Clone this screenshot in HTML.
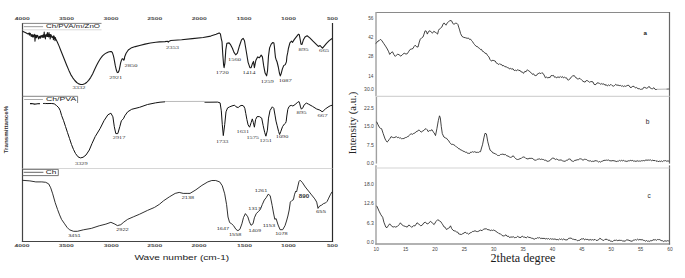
<!DOCTYPE html>
<html><head><meta charset="utf-8"><title>FTIR and XRD</title>
<style>html,body{margin:0;padding:0;background:#fff;width:685px;height:278px;overflow:hidden}svg{display:block}</style>
</head><body>
<svg width="685" height="278" viewBox="0 0 685 278">
<rect width="685" height="278" fill="#fff"/>
<!-- LEFT PANEL frame -->
<g fill="none" stroke-linejoin="round" stroke-linecap="butt">
<line x1="22.5" y1="23.0" x2="22.5" y2="242.0" stroke="#444" stroke-width="1.2"/>
<line x1="21.9" y1="241.5" x2="333.1" y2="241.5" stroke="#444" stroke-width="1.1"/>
<line x1="332.5" y1="23.0" x2="332.5" y2="242.0" stroke="#2a2a2a" stroke-width="1.2"/>
<!-- legend boxes -->
<path d="M22.5 23.4 H101.5" stroke="#777" stroke-width="0.9"/>
<path d="M22.5 29.8 H101.5" stroke="#ccc" stroke-width="0.7"/>
<line x1="23.8" y1="26.6" x2="43.1" y2="26.6" stroke="#aaa" stroke-width="1.2"/>
<path d="M22.5 96.3 H77.6 V103" stroke="#777" stroke-width="0.9"/>
<line x1="24.2" y1="99.5" x2="42.9" y2="99.5" stroke="#aaa" stroke-width="1.0"/>
<line x1="22.5" y1="168.5" x2="332.5" y2="168.5" stroke="#ccc" stroke-width="0.8"/>
<path d="M22.5 169.4 H58.3 V175.6 H22.5" stroke="#666" stroke-width="0.9"/>
<line x1="23.7" y1="172.3" x2="43.4" y2="172.3" stroke="#555" stroke-width="0.9"/>
<!-- curves -->
<polyline points="22.5,31.2 25.8,32.8 28.0,34.0 29.0,33.1 29.4,35.2 29.8,33.1 30.2,33.4 30.6,34.0 31.0,36.2 31.4,34.7 31.8,36.5 32.2,34.6 32.6,37.0 33.0,35.3 33.4,36.9 33.8,35.6 34.2,34.3 34.6,35.2 35.0,41.1 35.4,35.1 35.8,37.8 36.2,35.4 36.6,37.6 37.0,36.0 37.4,35.4 37.8,35.7 38.2,37.3 38.6,38.9 39.0,37.6 39.4,36.4 39.8,37.9 40.2,36.1 40.6,38.1 41.0,35.8 41.4,36.2 41.8,35.6 42.2,37.5 42.6,35.4 43.0,37.0 43.4,34.7 43.8,37.4 44.2,32.1 44.6,37.0 45.0,35.0 45.4,39.0 45.8,34.9 46.2,36.2 46.6,34.4 47.0,36.5 47.4,32.5 47.8,36.4 48.2,34.2 48.6,36.9 49.0,32.5 49.4,36.4 49.8,34.5 50.2,39.0 50.6,34.6 51.0,34.7 51.4,35.6 51.8,37.3 52.2,37.4 52.6,37.3 53.0,36.2 53.4,39.7 53.8,35.7 54.2,38.5 54.6,37.0 55.0,40.8 55.4,37.6 55.8,39.0 57.4,42.3 59.0,45.9 60.9,50.8 62.9,55.8 64.9,60.8 66.9,65.7 68.9,70.4 70.8,74.6 72.8,77.8 74.8,80.5 76.7,82.5 78.7,83.9 80.7,84.5 82.7,84.5 84.7,83.8 86.6,82.5 88.6,80.3 90.6,77.6 92.6,73.9 94.5,69.7 96.5,65.6 98.5,61.8 100.5,58.5 102.5,55.8 104.5,54.1 106.4,52.9 108.4,52.0 110.4,51.5 111.5,51.6 112.4,52.6 113.3,55.3 113.9,57.8 115.3,65.7 116.3,70.0 117.3,72.6 118.4,72.2 119.3,69.7 120.7,62.7 121.5,60.2 122.2,58.8 123.0,58.9 123.8,60.2 124.5,58.8 124.6,57.0 126.1,53.3 128.3,50.0 131.0,48.1 135.3,46.6 139.6,45.5 145.0,44.1 150.4,43.0 155.8,42.3 159.5,41.9 165.0,41.6 167.6,41.3 168.3,42.1 169.2,41.2 170.8,40.5 181.6,39.7 192.4,38.6 203.2,37.5 210.7,36.1 216.1,34.3 219.1,32.9 220.4,33.9 221.3,38.8 222.0,41.6 222.8,54.8 223.6,64.8 224.1,67.6 224.9,63.1 225.8,49.9 226.9,43.2 229.1,42.9 230.7,44.9 232.4,48.2 234.0,52.4 235.7,54.8 237.4,53.2 239.5,45.7 241.5,39.9 243.1,38.3 244.5,40.8 246.3,51.5 248.1,62.3 249.9,67.7 251.1,67.7 252.6,63.2 253.5,61.4 254.4,67.7 255.8,60.5 257.6,56.9 259.4,57.8 261.2,55.1 262.4,56.9 263.7,65.9 265.1,73.1 266.6,75.8 267.5,71.0 268.5,56.0 269.6,47.9 271.2,44.1 272.8,42.5 273.9,43.0 274.4,46.8 274.9,52.2 275.5,57.6 276.0,59.2 277.1,62.0 278.3,67.0 279.4,73.0 280.3,75.9 281.3,73.2 282.4,68.9 283.7,65.6 285.3,64.6 286.4,61.9 286.9,56.5 287.8,52.2 288.4,48.5 289.9,42.8 291.5,41.2 292.6,42.3 294.2,39.6 296.3,36.9 298.5,34.2 299.3,34.7 300.1,39.0 301.0,44.2 302.0,44.4 303.3,40.1 305.0,36.9 307.1,35.8 309.8,37.9 313.0,41.2 316.3,44.4 318.4,46.4 320.1,45.5 321.5,47.1 322.5,48.2 323.8,46.6 326.5,43.3 329.2,40.6 332.1,38.5" stroke="#1a1a1a" stroke-width="1.1"/>
<polyline points="30,103.6 31.5,103.5 33,103.7 34.5,104.1 36,104.0 37.5,103.7 39.9,103.6" stroke="#111" stroke-width="1.1"/>
<polyline points="43.1,103.6 44.2,103.3 45.0,103.9 45.8,103.4 47.0,103.6 49.0,103.5 51.8,103.5 54.2,103.8 56.6,105.6 58.9,107.9 60.2,110.5 61.6,115.5 63.6,120.7 65.5,126.5 67.5,132.6 69.5,138.5 71.5,144.5 73.5,149.5 75.5,153.5 78.0,156.8 80.4,157.9 83.0,157.3 86.0,155.0 89.3,150.0 92.0,143.5 95.2,136.6 100.0,128.7 104.0,120.7 107.9,114.8 110.9,113.2 112.9,116.8 114.3,126.7 115.8,133.6 117.8,133.6 119.8,126.7 121.4,120.7 123.4,118.8 124.8,115.8 127.7,111.8 131.7,109.3 139.6,107.3 147.5,104.5 155.4,102.9 160.0,102.2 165.0,101.8" stroke="#111" stroke-width="1.0"/>
<line x1="165" y1="101.5" x2="204.5" y2="101.4" stroke="#bbb" stroke-width="1.0"/>
<polyline points="204.5,102.2 210.0,102.2 217.7,102.1 220.1,102.9 221.3,110.8 222.3,124.7 223.3,135.6 224.7,124.7 226.0,111.8 227.6,107.9 229.6,106.9 232.0,105.9 234.6,105.2 236.0,106.8 238.3,107.6 239.8,106.0 242.0,105.3 243.6,106.0 244.8,108.3 245.8,113.6 246.9,119.6 248.1,124.9 249.6,127.2 251.1,122.7 252.3,118.9 253.4,122.7 254.4,127.2 255.6,119.6 257.1,116.6 259.4,116.6 261.7,118.1 263.2,125.7 264.7,132.5 265.9,136.2 267.4,130.2 268.5,118.1 270.0,110.6 272.3,106.8 273.8,108.3 275.0,115.1 276.0,121.1 277.2,125.8 278.6,131.5 279.6,134.5 280.9,131.2 282.6,126.5 284.4,124.0 285.5,123.2 286.2,121.4 286.8,116.0 287.8,109.4 289.0,106.6 290.0,105.8 291.3,105.4 292.9,106.0 295.1,104.5 297.3,102.6 298.9,101.5 299.6,103.1 300.5,106.9 301.4,109.2 302.7,107.9 304.3,104.7 306.4,103.1 308.6,104.2 312.4,106.3 316.7,109.0 319.9,110.1 322.1,111.7 323.1,111.2 325.3,109.0 328.0,107.1 330.2,105.8 332.3,105.2" stroke="#111" stroke-width="1.0"/>
<polyline points="22.4,180.3 29.9,180.9 35.8,181.9 41.8,181.9 45.7,182.3 48.7,183.9 50.7,187.8 52.7,193.8 55.2,202.7 57.6,209.6 59.6,214.9 61.6,219.5 64.6,223.8 67.0,227.3 69.5,229.8 73.5,231.3 77.4,231.3 83.4,229.8 91.3,228.4 99.2,225.8 105.9,224.1 110.9,222.3 114.9,224.1 117.4,225.6 120.8,224.7 123.8,222.1 127.7,219.3 133.7,216.7 139.6,214.2 147.5,210.4 154.5,207.4 159.4,204.3 163.4,200.9 169.3,196.9 175.2,193.4 179.2,192.4 183.2,193.4 187.1,193.4 190.0,193.4 195.9,189.8 201.9,185.4 207.8,181.9 211.8,180.5 215.7,180.5 219.7,181.9 222.3,185.8 224.7,193.8 226.6,204.7 228.0,217.0 229.6,222.5 231.6,223.8 233.6,225.7 235.9,229.3 237.9,230.7 239.9,229.3 241.9,223.8 243.5,217.5 245.4,213.6 247.8,216.8 249.4,221.8 251.0,225.3 253.0,223.8 254.4,217.8 256.3,213.5 258.3,211.7 260.3,209.5 262.3,204.5 264.3,200.0 266.2,197.7 268.2,194.2 270.2,195.7 272.2,205.6 273.5,213.0 274.8,219.3 276.1,218.6 278.1,225.0 280.1,229.7 282.7,229.7 285.0,225.7 286.5,221.0 287.9,216.0 289.2,210.0 290.3,202.1 291.9,200.5 293.4,199.7 294.6,194.2 295.8,191.0 296.6,191.8 297.7,187.0 299.0,181.5 300.1,180.2 302.2,182.3 305.3,187.0 308.5,191.0 311.6,194.9 314.8,198.9 316.7,202.1 318.0,208.4 319.6,206.0 321.5,205.2 323.5,203.6 325.6,202.9 327.2,201.3 328.7,198.1 330.6,194.2 332.1,191.8" stroke="#1a1a1a" stroke-width="0.9"/>
<!-- RIGHT PANEL frame -->
<path d="M376 12.5 H669.5" stroke="#8a8a8a" stroke-width="1.1"/>
<line x1="376" y1="12.0" x2="376" y2="96" stroke="#a0a0a0" stroke-width="1.4"/>
<line x1="376.4" y1="96" x2="376.4" y2="163.6" stroke="#a0a0a0" stroke-width="1.4"/>
<line x1="376" y1="165.2" x2="376" y2="244.7" stroke="#a0a0a0" stroke-width="1.4"/>
<line x1="375.3" y1="244.0" x2="670.1" y2="244.0" stroke="#999" stroke-width="1.3"/>
<line x1="669.5" y1="12.0" x2="669.5" y2="163.6" stroke="#666" stroke-width="1.2"/>
<line x1="669.5" y1="165.4" x2="669.5" y2="244.6" stroke="#666" stroke-width="1.2"/>
<line x1="376" y1="96.4" x2="669.5" y2="96.4" stroke="#d4d4d4" stroke-width="1.1"/>
<line x1="376" y1="168.0" x2="669.5" y2="168.0" stroke="#d4d4d4" stroke-width="1.1"/>
<polyline points="375.6,43.6 376.8,42.6 378.0,41.0 379.1,40.7 380.3,39.4 381.7,40.4 383.6,43.3 385.5,46.1 387.3,49.0 388.7,51.8 389.7,54.4 391.1,52.7 392.5,51.8 393.9,54.6 395.3,56.4 396.7,55.0 397.6,54.1 399.0,54.7 400.9,56.2 402.3,54.7 404.2,53.2 406.0,54.1 407.4,53.6 408.8,51.3 410.2,49.4 411.6,49.0 413.0,48.5 414.0,46.6 415.2,45.2 416.3,46.6 418.0,47.1 419.3,42.0 420.3,39.2 421.7,37.8 423.1,36.9 424.0,34.1 425.1,30.8 426.4,31.3 427.3,34.1 428.7,31.3 430.1,30.8 431.3,32.2 432.4,33.2 433.8,31.3 435.2,32.2 436.6,33.2 437.6,34.1 438.5,30.4 439.4,29.0 440.8,28.0 441.8,27.1 443.2,23.8 444.1,22.9 445.0,24.1 446.0,25.2 446.9,23.3 448.3,22.2 449.8,20.5 451.0,20.7 452.0,21.3 452.6,23.3 454.0,24.3 455.4,23.3 456.8,23.3 457.8,24.3 458.7,27.1 459.6,29.9 460.6,33.6 462.0,36.4 463.8,37.4 465.7,37.8 467.1,38.3 468.6,38.1 469.6,39.5 470.6,39.2 471.6,40.6 472.6,41.7 473.6,43.4 474.6,44.6 476.1,46.3 477.5,46.6 478.5,47.9 479.5,48.3 480.5,49.6 481.5,49.4 482.5,51.3 483.5,51.5 484.9,53.2 486.4,53.5 487.6,55.6 488.9,56.8 489.9,59.3 490.9,60.7 491.9,61.0 492.9,60.1 493.9,60.7 495.2,61.0 496.5,63.2 497.8,63.7 498.8,64.6 499.8,63.6 500.8,64.7 501.8,64.7 502.8,66.0 503.8,65.5 504.8,66.7 506.2,66.8 507.7,67.7 508.7,67.9 509.7,69.1 510.7,68.3 511.7,69.1 513.0,68.8 514.3,70.6 515.6,70.2 516.7,70.8 517.8,69.5 518.9,70.7 520.0,70.3 521.2,72.0 522.3,71.9 523.5,73.4 524.8,71.4 526.1,71.7 527.4,69.7 528.4,70.7 529.4,71.1 530.4,72.4 531.4,72.9 532.5,74.4 533.6,73.8 534.7,75.5 535.8,75.6 536.8,75.2 537.8,73.6 538.8,73.4 539.8,72.9 540.8,73.7 541.8,72.7 542.8,73.2 544.1,75.0 545.4,77.8 546.6,76.9 547.7,78.1 548.9,77.3 550.1,77.5 551.2,75.5 552.4,75.6 553.5,75.4 554.6,77.3 555.7,77.0 556.8,77.8 558.0,76.7 559.1,77.7 560.3,76.5 561.3,77.5 562.4,76.5 563.4,77.9 564.5,77.2 565.5,77.8 566.5,77.8 567.6,79.8 568.6,80.0 569.9,79.0 571.2,77.1 572.5,76.0 574.3,75.6 575.6,77.6 577.0,78.2 578.0,79.4 579.1,78.2 580.2,78.6 581.9,80.3 583.0,81.3 584.1,81.8 585.1,82.1 586.2,80.6 587.2,80.6 588.3,81.2 589.4,82.3 590.7,81.6 592.0,81.6 593.0,82.0 594.1,84.4 595.1,84.7 596.1,84.3 597.1,82.9 598.1,82.9 599.5,83.4 600.8,84.3 601.8,83.5 602.8,84.3 603.8,83.8 605.0,85.3 606.1,84.5 607.3,86.0 608.5,84.9 609.6,85.7 610.8,84.3 612.1,85.6 613.5,86.2 614.6,85.5 615.7,84.3 616.9,85.3 618.0,85.0 619.2,85.6 620.4,85.4 621.5,86.2 622.7,85.8 623.7,86.6 624.7,85.9 625.7,86.4 626.8,85.7 627.9,85.3 628.9,85.4 630.0,87.2 631.0,87.6 632.8,86.3 634.1,86.4 635.5,88.0 636.7,87.5 638.0,88.8 639.2,88.6 640.5,89.4 641.7,89.2 642.7,89.1 643.7,87.4 644.7,87.4 646.6,88.3 647.8,87.8 649.0,86.3 650.2,88.0 651.5,88.6 652.7,88.7 653.9,87.7 655.1,89.4 656.4,89.5 657.2,89.3" stroke="#222" stroke-width="0.85"/>
<line x1="657.2" y1="89.3" x2="666.5" y2="89.1" stroke="#aaa" stroke-width="0.9"/>
<line x1="666.5" y1="89.1" x2="669.3" y2="89.0" stroke="#444" stroke-width="0.9"/>
<polyline points="376.6,121.7 378.0,124.7 379.6,127.7 380.6,128.4 381.6,128.7 383.2,133.6 385.1,139.0 386.1,140.7 387.1,142.1 388.1,141.2 389.1,139.6 390.1,138.3 391.1,136.6 392.3,137.3 393.5,137.6 394.9,137.4 396.4,136.6 397.4,137.7 398.4,137.2 399.4,138.2 400.4,137.8 401.4,138.7 402.4,138.6 403.9,138.5 405.3,137.6 406.3,137.5 407.3,136.7 408.3,136.6 409.3,135.2 410.3,134.2 411.3,133.8 412.3,134.4 413.3,133.6 414.8,133.1 416.2,131.6 417.2,131.6 418.2,130.2 419.2,130.2 420.2,131.0 421.2,132.2 422.2,131.3 423.2,131.0 424.6,129.4 426.1,128.7 427.1,129.7 428.1,131.6 429.4,130.6 430.7,130.6 432.0,129.7 433.0,131.7 434.0,132.6 435.5,135.6 436.9,128.7 438.3,120.7 439.5,115.8 440.3,117.8 441.3,126.7 442.3,133.6 443.9,137.0 445.4,137.9 446.8,138.5 447.8,140.1 448.8,140.8 449.8,142.7 450.8,143.8 451.8,144.5 452.8,144.3 453.8,144.8 455.2,145.7 456.7,147.2 457.7,147.6 458.7,148.8 459.7,148.8 460.7,150.1 461.7,150.0 462.7,151.1 464.1,151.4 465.6,152.3 466.6,152.1 467.6,153.4 468.6,153.3 469.6,153.5 470.6,152.1 471.6,152.3 472.6,151.7 473.6,152.2 474.6,151.7 476.1,152.4 477.5,152.3 478.5,152.4 479.5,151.7 480.5,151.7 481.5,148.0 482.5,144.8 483.9,137.9 485.0,133.3 486.4,133.9 487.8,141.8 489.4,147.8 490.1,150.2 491.4,151.0 492.7,152.8 494.0,153.2 495.4,153.9 496.4,154.3 497.5,155.4 498.5,155.5 499.6,155.4 500.6,154.4 501.7,154.4 502.9,154.1 504.2,154.7 505.4,154.4 506.7,155.8 508.0,156.0 509.3,156.9 510.6,157.4 511.9,156.9 513.2,155.7 514.2,157.1 515.3,158.1 516.3,159.2 517.4,159.5 518.8,159.3 520.1,158.6 521.3,158.4 522.6,157.1 523.8,157.0 524.8,157.3 525.9,158.5 526.9,158.6 528.0,159.1 529.0,158.3 530.1,158.4 531.2,158.3 532.2,158.4 533.2,158.8 534.3,160.1 535.3,160.2 536.4,160.2 537.4,159.2 538.5,159.1 539.5,158.9 540.6,159.5 541.7,159.1 542.7,159.5 543.7,159.6 544.8,160.4 545.8,160.2 547.1,161.3 548.5,161.2 549.8,160.7 551.1,159.1 552.7,158.1 554.0,158.3 555.3,159.5 556.6,159.0 557.9,159.7 558.5,160.1 559.8,160.1 561.1,159.9 562.5,160.8 563.8,161.2 565.1,161.3 566.4,160.3 567.4,160.4 568.4,159.1 569.4,159.0 570.4,159.2 571.5,160.9 572.5,161.2 573.7,161.4 574.8,160.3 576.0,160.3 577.1,159.7 578.2,159.9 579.3,159.0 580.4,158.8 581.7,159.2 583.0,160.3 584.3,159.3 585.6,159.4 586.6,159.6 587.7,160.5 588.7,160.8 589.7,161.0 590.7,160.8 591.7,161.6 592.7,161.2 593.9,161.4 595.0,160.7 596.2,160.8 597.3,161.0 598.4,162.0 599.4,161.5 600.5,162.1 601.7,161.3 602.8,161.0 604.0,160.3 605.2,160.4 606.3,160.1 607.5,160.3 608.7,160.0 609.8,160.8 611.0,160.8 612.0,160.9 613.0,160.4 614.0,161.0 615.0,160.8 616.1,161.6 617.3,161.2 618.4,161.2 619.5,160.4 620.5,161.0 621.6,160.3 622.7,160.9 623.7,160.2 624.8,161.4 625.8,161.0 626.9,161.5 628.2,160.8 629.5,160.8 630.8,160.3 631.8,160.8 632.8,160.4 633.8,161.3 634.8,160.9 636.0,161.5 637.1,160.7 638.3,161.2 639.4,161.0 640.5,161.2 641.5,160.7 642.6,160.8 643.7,160.5 644.8,160.8 645.9,159.9 647.0,160.3 648.2,160.0 649.3,160.2 650.5,159.9 651.7,160.8 652.8,160.1 654.0,160.8 655.0,160.3 656.1,161.4 657.1,160.6 658.1,161.8 659.2,161.0 660.2,161.6 661.3,160.9 662.4,161.6 663.4,160.8 664.5,160.8 665.7,160.6 666.8,161.3 668.0,160.8 669.2,161.4" stroke="#222" stroke-width="0.85"/>
<polyline points="376.6,205.8 377.2,206.9 379.1,211.2 380.9,214.8 382.7,217.3 383.9,222.2 385.8,227.1 387.0,227.7 388.2,225.8 389.7,223.8 391.3,225.8 393.1,227.1 394.4,226.6 395.6,227.1 397.4,226.4 399.2,224.6 400.4,222.8 401.7,224.6 403.5,225.8 405.3,226.4 407.2,227.1 408.8,225.0 410.2,225.8 411.7,227.4 413.3,225.8 415.1,225.8 417.0,222.8 418.8,224.0 420.6,225.8 422.2,225.2 423.9,222.8 425.5,222.2 427.1,224.0 428.6,223.4 430.4,221.3 432.2,222.8 434.1,224.6 435.9,221.6 437.7,219.7 439.6,220.9 440.8,221.7 442.0,223.6 442.9,224.9 444.1,227.0 445.2,227.3 446.4,229.5 448.2,228.4 449.4,227.7 450.5,225.8 451.7,228.6 452.9,230.1 454.1,230.9 455.2,230.9 456.4,231.9 457.6,232.0 458.7,233.9 459.9,234.2 461.4,234.5 462.8,233.6 464.0,233.1 465.1,232.1 466.3,233.2 467.4,233.2 468.6,234.2 470.1,232.9 471.5,232.4 472.7,231.4 473.8,231.4 475.0,230.7 476.2,231.4 477.4,231.6 478.9,231.1 480.3,230.1 482.1,230.7 483.6,229.1 485.0,228.9 486.4,228.8 487.9,229.8 489.1,229.7 490.2,230.6 491.4,230.1 492.6,230.5 493.7,230.0 494.9,230.7 496.0,231.3 497.2,232.4 498.2,232.7 499.2,233.8 500.2,233.6 501.6,235.1 503.1,236.0 504.6,235.7 506.0,234.8 507.2,236.4 508.3,236.0 509.5,237.5 510.9,237.0 512.4,237.1 513.4,236.6 514.4,237.8 515.4,237.5 516.5,237.4 517.7,236.3 518.9,237.2 520.0,237.5 521.1,237.4 522.2,236.0 523.5,237.1 524.9,237.1 526.2,237.9 527.5,236.7 528.8,237.4 530.1,237.5 531.5,238.2 532.9,238.4 534.2,239.3 535.3,238.5 536.4,238.5 537.5,237.7 538.6,238.0 539.7,237.6 540.8,238.6 541.9,238.2 543.0,238.6 544.1,238.2 545.2,239.0 546.3,238.5 547.4,239.0 548.5,238.5 549.6,239.4 550.7,238.6 551.8,239.3 552.9,238.8 553.9,239.4 555.0,238.8 556.1,239.7 557.2,239.4 558.3,239.9 559.4,238.9 560.5,239.5 561.6,239.0 562.7,239.8 563.8,238.8 564.9,239.8 566.0,239.9 567.3,239.9 568.5,238.4 569.8,238.2 571.1,238.1 572.4,239.1 573.7,239.3 574.9,239.7 576.2,239.6 577.4,240.8 578.6,240.4 579.9,240.2 581.1,238.9 582.4,239.0 583.5,238.5 584.6,240.0 585.7,239.1 586.8,239.6 587.9,239.4 589.0,240.3 590.1,239.4 591.2,240.1 592.5,239.6 593.7,240.1 595.0,239.3 596.1,240.4 597.2,240.4 598.5,239.9 599.9,238.2 601.3,239.3 602.7,240.1 603.8,240.5 604.9,239.4 606.0,239.3 607.1,239.3 608.2,240.5 609.2,239.8 610.3,241.2 611.4,241.2 612.7,241.6 614.0,240.2 615.3,240.4 616.5,240.1 617.8,240.7 619.0,240.2 620.2,240.4 621.5,240.4 622.7,241.0 624.0,241.0 625.3,241.2 626.6,239.7 627.9,240.1 629.0,240.2 630.0,240.9 631.1,241.0 632.2,241.4 633.3,240.0 634.4,240.1 635.5,239.6 636.6,240.1 637.7,239.1 638.8,240.1 639.9,239.3 641.0,240.0 642.1,239.5 643.2,240.3 644.3,240.4 645.4,241.2 646.5,240.5 647.6,241.3 648.7,241.0 649.8,241.4 650.9,240.4 651.9,241.0 653.0,239.6 654.1,240.1 655.2,239.5 656.3,240.4 657.4,239.5 658.5,239.6 659.8,239.6 661.1,240.6 662.4,240.7 663.7,241.5 664.9,240.7 666.2,241.2 667.5,240.7 668.9,241.0" stroke="#222" stroke-width="0.85"/>
</g>
<text x="22.3" y="19.95" font-family="Liberation Sans" font-size="4.3" font-weight="bold" fill="#4a4a4a" text-anchor="middle" textLength="15" lengthAdjust="spacingAndGlyphs">4000</text>
<text x="66.4" y="19.95" font-family="Liberation Sans" font-size="4.3" font-weight="bold" fill="#4a4a4a" text-anchor="middle" textLength="15" lengthAdjust="spacingAndGlyphs">3500</text>
<text x="110.9" y="19.95" font-family="Liberation Sans" font-size="4.3" font-weight="bold" fill="#4a4a4a" text-anchor="middle" textLength="15" lengthAdjust="spacingAndGlyphs">3000</text>
<text x="154.8" y="19.95" font-family="Liberation Sans" font-size="4.3" font-weight="bold" fill="#4a4a4a" text-anchor="middle" textLength="15" lengthAdjust="spacingAndGlyphs">2500</text>
<text x="199.2" y="19.95" font-family="Liberation Sans" font-size="4.3" font-weight="bold" fill="#4a4a4a" text-anchor="middle" textLength="15" lengthAdjust="spacingAndGlyphs">2000</text>
<text x="244.1" y="19.95" font-family="Liberation Sans" font-size="4.3" font-weight="bold" fill="#4a4a4a" text-anchor="middle" textLength="15" lengthAdjust="spacingAndGlyphs">1500</text>
<text x="288.4" y="19.95" font-family="Liberation Sans" font-size="4.3" font-weight="bold" fill="#4a4a4a" text-anchor="middle" textLength="15" lengthAdjust="spacingAndGlyphs">1000</text>
<text x="332.4" y="19.95" font-family="Liberation Sans" font-size="4.3" font-weight="bold" fill="#4a4a4a" text-anchor="middle" textLength="11" lengthAdjust="spacingAndGlyphs">500</text>
<text x="22.0" y="247.15" font-family="Liberation Sans" font-size="4.4" font-weight="bold" fill="#4a4a4a" text-anchor="middle" textLength="15" lengthAdjust="spacingAndGlyphs">4000</text>
<text x="66.3" y="247.15" font-family="Liberation Sans" font-size="4.4" font-weight="bold" fill="#4a4a4a" text-anchor="middle" textLength="15" lengthAdjust="spacingAndGlyphs">3500</text>
<text x="111.2" y="247.15" font-family="Liberation Sans" font-size="4.4" font-weight="bold" fill="#4a4a4a" text-anchor="middle" textLength="15" lengthAdjust="spacingAndGlyphs">3000</text>
<text x="154.7" y="247.15" font-family="Liberation Sans" font-size="4.4" font-weight="bold" fill="#4a4a4a" text-anchor="middle" textLength="15" lengthAdjust="spacingAndGlyphs">2500</text>
<text x="199.1" y="247.15" font-family="Liberation Sans" font-size="4.4" font-weight="bold" fill="#4a4a4a" text-anchor="middle" textLength="15" lengthAdjust="spacingAndGlyphs">2000</text>
<text x="244.5" y="247.15" font-family="Liberation Sans" font-size="4.4" font-weight="bold" fill="#4a4a4a" text-anchor="middle" textLength="15" lengthAdjust="spacingAndGlyphs">1500</text>
<text x="288.4" y="247.15" font-family="Liberation Sans" font-size="4.4" font-weight="bold" fill="#4a4a4a" text-anchor="middle" textLength="15" lengthAdjust="spacingAndGlyphs">1000</text>
<text x="332.4" y="247.15" font-family="Liberation Sans" font-size="4.4" font-weight="bold" fill="#4a4a4a" text-anchor="middle" textLength="11" lengthAdjust="spacingAndGlyphs">500</text>
<text x="79.0" y="89.4" font-family="Liberation Serif" font-size="4.6" font-weight="normal" fill="#333" text-anchor="middle" textLength="13" lengthAdjust="spacingAndGlyphs">3332</text>
<text x="115.7" y="79.1" font-family="Liberation Serif" font-size="4.6" font-weight="normal" fill="#333" text-anchor="middle" textLength="13" lengthAdjust="spacingAndGlyphs">2921</text>
<text x="131" y="66.6" font-family="Liberation Serif" font-size="4.6" font-weight="normal" fill="#333" text-anchor="middle" textLength="13" lengthAdjust="spacingAndGlyphs">2850</text>
<text x="172.6" y="48.7" font-family="Liberation Serif" font-size="4.6" font-weight="normal" fill="#333" text-anchor="middle" textLength="13" lengthAdjust="spacingAndGlyphs">2353</text>
<text x="222.3" y="74.3" font-family="Liberation Serif" font-size="4.6" font-weight="normal" fill="#333" text-anchor="middle" textLength="13" lengthAdjust="spacingAndGlyphs">1720</text>
<text x="234.4" y="61.1" font-family="Liberation Serif" font-size="4.6" font-weight="normal" fill="#333" text-anchor="middle" textLength="13" lengthAdjust="spacingAndGlyphs">1560</text>
<text x="249" y="74.3" font-family="Liberation Serif" font-size="4.6" font-weight="normal" fill="#333" text-anchor="middle" textLength="13" lengthAdjust="spacingAndGlyphs">1414</text>
<text x="267.3" y="83.0" font-family="Liberation Serif" font-size="4.6" font-weight="normal" fill="#333" text-anchor="middle" textLength="13" lengthAdjust="spacingAndGlyphs">1259</text>
<text x="285.2" y="82.1" font-family="Liberation Serif" font-size="4.6" font-weight="normal" fill="#333" text-anchor="middle" textLength="13" lengthAdjust="spacingAndGlyphs">1087</text>
<text x="303.6" y="51.0" font-family="Liberation Serif" font-size="4.6" font-weight="normal" fill="#333" text-anchor="middle" textLength="10" lengthAdjust="spacingAndGlyphs">895</text>
<text x="324.1" y="51.8" font-family="Liberation Serif" font-size="4.6" font-weight="normal" fill="#333" text-anchor="middle" textLength="10" lengthAdjust="spacingAndGlyphs">665</text>
<text x="81.3" y="165.4" font-family="Liberation Serif" font-size="4.6" font-weight="normal" fill="#333" text-anchor="middle" textLength="12.5" lengthAdjust="spacingAndGlyphs">3329</text>
<text x="119" y="139.0" font-family="Liberation Serif" font-size="4.6" font-weight="normal" fill="#333" text-anchor="middle" textLength="12.5" lengthAdjust="spacingAndGlyphs">2917</text>
<text x="222.2" y="142.5" font-family="Liberation Serif" font-size="4.6" font-weight="normal" fill="#333" text-anchor="middle" textLength="12.5" lengthAdjust="spacingAndGlyphs">1733</text>
<text x="242.8" y="132.6" font-family="Liberation Serif" font-size="4.6" font-weight="normal" fill="#333" text-anchor="middle" textLength="12.5" lengthAdjust="spacingAndGlyphs">1631</text>
<text x="252.7" y="138.6" font-family="Liberation Serif" font-size="4.6" font-weight="normal" fill="#333" text-anchor="middle" textLength="12.5" lengthAdjust="spacingAndGlyphs">1575</text>
<text x="265.7" y="141.7" font-family="Liberation Serif" font-size="4.6" font-weight="normal" fill="#333" text-anchor="middle" textLength="12.5" lengthAdjust="spacingAndGlyphs">1251</text>
<text x="282.0" y="138.2" font-family="Liberation Serif" font-size="4.6" font-weight="normal" fill="#333" text-anchor="middle" textLength="12.5" lengthAdjust="spacingAndGlyphs">1090</text>
<text x="301.6" y="113.7" font-family="Liberation Serif" font-size="4.6" font-weight="normal" fill="#333" text-anchor="middle" textLength="10" lengthAdjust="spacingAndGlyphs">895</text>
<text x="322.5" y="117.1" font-family="Liberation Serif" font-size="4.6" font-weight="normal" fill="#333" text-anchor="middle" textLength="10" lengthAdjust="spacingAndGlyphs">667</text>
<text x="74.5" y="236.7" font-family="Liberation Sans" font-size="4.2" font-weight="normal" fill="#333" text-anchor="middle" textLength="12.5" lengthAdjust="spacingAndGlyphs">3451</text>
<text x="122.5" y="230.6" font-family="Liberation Sans" font-size="4.2" font-weight="normal" fill="#333" text-anchor="middle" textLength="12.5" lengthAdjust="spacingAndGlyphs">2922</text>
<text x="188" y="198.9" font-family="Liberation Sans" font-size="4.2" font-weight="normal" fill="#333" text-anchor="middle" textLength="12.5" lengthAdjust="spacingAndGlyphs">2138</text>
<text x="223" y="229.7" font-family="Liberation Sans" font-size="4.2" font-weight="normal" fill="#333" text-anchor="middle" textLength="12.5" lengthAdjust="spacingAndGlyphs">1647</text>
<text x="235.2" y="236.0" font-family="Liberation Sans" font-size="4.2" font-weight="normal" fill="#333" text-anchor="middle" textLength="12.5" lengthAdjust="spacingAndGlyphs">1558</text>
<text x="254.8" y="232.1" font-family="Liberation Sans" font-size="4.2" font-weight="normal" fill="#333" text-anchor="middle" textLength="12.5" lengthAdjust="spacingAndGlyphs">1409</text>
<text x="254.6" y="210.0" font-family="Liberation Sans" font-size="4.2" font-weight="normal" fill="#333" text-anchor="middle" textLength="12.5" lengthAdjust="spacingAndGlyphs">1317</text>
<text x="261.1" y="191.8" font-family="Liberation Sans" font-size="4.2" font-weight="normal" fill="#333" text-anchor="middle" textLength="12.5" lengthAdjust="spacingAndGlyphs">1261</text>
<text x="269" y="226.7" font-family="Liberation Sans" font-size="4.2" font-weight="normal" fill="#333" text-anchor="middle" textLength="12.5" lengthAdjust="spacingAndGlyphs">1153</text>
<text x="281.4" y="234.7" font-family="Liberation Sans" font-size="4.2" font-weight="normal" fill="#333" text-anchor="middle" textLength="12.5" lengthAdjust="spacingAndGlyphs">1078</text>
<text x="321" y="212.6" font-family="Liberation Sans" font-size="4.2" font-weight="normal" fill="#333" text-anchor="middle" textLength="10" lengthAdjust="spacingAndGlyphs">655</text>
<text x="304" y="198.4" font-family="Liberation Sans" font-size="4.8" font-weight="bold" fill="#333" text-anchor="middle" textLength="10.5" lengthAdjust="spacingAndGlyphs">890</text>
<text x="46" y="28.4" font-family="Liberation Sans" font-size="4.6" font-weight="normal" fill="#222" text-anchor="start" textLength="54" lengthAdjust="spacingAndGlyphs">Ch/PVA/m/ZnO</text>
<text x="46" y="101.3" font-family="Liberation Sans" font-size="4.6" font-weight="normal" fill="#222" text-anchor="start" textLength="30.2" lengthAdjust="spacingAndGlyphs">Ch/PVA</text>
<text x="45.8" y="173.8" font-family="Liberation Sans" font-size="4.6" font-weight="normal" fill="#222" text-anchor="start" textLength="10.6" lengthAdjust="spacingAndGlyphs">Ch</text>
<text x="181.8" y="259.7" font-family="Liberation Sans" font-size="6.6" font-weight="normal" fill="#222" text-anchor="middle" textLength="94.8" lengthAdjust="spacingAndGlyphs">Wave number (cm-1)</text>
<text transform="translate(7.6,129.6) rotate(-90)" x="0" y="0" font-family="Liberation Sans" font-size="4.9" font-weight="bold" fill="#333" text-anchor="middle" textLength="47.5" lengthAdjust="spacingAndGlyphs">Transmittance%</text>
<text x="373.4" y="19.6" font-family="Liberation Sans" font-size="5.4" font-weight="normal" fill="#444" text-anchor="end" textLength="5.2" lengthAdjust="spacingAndGlyphs">56</text>
<text x="373.4" y="38.9" font-family="Liberation Sans" font-size="5.4" font-weight="normal" fill="#444" text-anchor="end" textLength="5.2" lengthAdjust="spacingAndGlyphs">42</text>
<text x="373.4" y="58.1" font-family="Liberation Sans" font-size="5.4" font-weight="normal" fill="#444" text-anchor="end" textLength="5.2" lengthAdjust="spacingAndGlyphs">28</text>
<text x="373.4" y="77.7" font-family="Liberation Sans" font-size="5.4" font-weight="normal" fill="#444" text-anchor="end" textLength="5.2" lengthAdjust="spacingAndGlyphs">14</text>
<text x="373.9" y="91.3" font-family="Liberation Sans" font-size="5.4" font-weight="normal" fill="#444" text-anchor="end" textLength="9.8" lengthAdjust="spacingAndGlyphs">30.0</text>
<text x="373.9" y="109.9" font-family="Liberation Sans" font-size="5.4" font-weight="normal" fill="#444" text-anchor="end" textLength="9.8" lengthAdjust="spacingAndGlyphs">22.5</text>
<text x="373.9" y="128.1" font-family="Liberation Sans" font-size="5.4" font-weight="normal" fill="#444" text-anchor="end" textLength="9.8" lengthAdjust="spacingAndGlyphs">15.0</text>
<text x="373.9" y="146.5" font-family="Liberation Sans" font-size="5.4" font-weight="normal" fill="#444" text-anchor="end" textLength="7.2" lengthAdjust="spacingAndGlyphs">7.5</text>
<text x="373.9" y="165.0" font-family="Liberation Sans" font-size="5.4" font-weight="normal" fill="#444" text-anchor="end" textLength="7.2" lengthAdjust="spacingAndGlyphs">0.0</text>
<text x="373.9" y="185.7" font-family="Liberation Sans" font-size="5.4" font-weight="normal" fill="#444" text-anchor="end" textLength="9.8" lengthAdjust="spacingAndGlyphs">18.0</text>
<text x="373.9" y="205.2" font-family="Liberation Sans" font-size="5.4" font-weight="normal" fill="#444" text-anchor="end" textLength="9.8" lengthAdjust="spacingAndGlyphs">12.6</text>
<text x="373.9" y="224.7" font-family="Liberation Sans" font-size="5.4" font-weight="normal" fill="#444" text-anchor="end" textLength="7.2" lengthAdjust="spacingAndGlyphs">6.3</text>
<text x="373.9" y="244.2" font-family="Liberation Sans" font-size="5.4" font-weight="normal" fill="#444" text-anchor="end" textLength="7.2" lengthAdjust="spacingAndGlyphs">0.0</text>
<text x="376.2" y="250.6" font-family="Liberation Sans" font-size="5.4" font-weight="normal" fill="#444" text-anchor="middle" textLength="5.4" lengthAdjust="spacingAndGlyphs">10</text>
<text x="405.58" y="250.6" font-family="Liberation Sans" font-size="5.4" font-weight="normal" fill="#444" text-anchor="middle" textLength="5.4" lengthAdjust="spacingAndGlyphs">15</text>
<text x="434.96" y="250.6" font-family="Liberation Sans" font-size="5.4" font-weight="normal" fill="#444" text-anchor="middle" textLength="5.4" lengthAdjust="spacingAndGlyphs">20</text>
<text x="464.34" y="250.6" font-family="Liberation Sans" font-size="5.4" font-weight="normal" fill="#444" text-anchor="middle" textLength="5.4" lengthAdjust="spacingAndGlyphs">25</text>
<text x="493.71999999999997" y="250.6" font-family="Liberation Sans" font-size="5.4" font-weight="normal" fill="#444" text-anchor="middle" textLength="5.4" lengthAdjust="spacingAndGlyphs">30</text>
<text x="523.1" y="250.6" font-family="Liberation Sans" font-size="5.4" font-weight="normal" fill="#444" text-anchor="middle" textLength="5.4" lengthAdjust="spacingAndGlyphs">35</text>
<text x="552.48" y="250.6" font-family="Liberation Sans" font-size="5.4" font-weight="normal" fill="#444" text-anchor="middle" textLength="5.4" lengthAdjust="spacingAndGlyphs">40</text>
<text x="581.86" y="250.6" font-family="Liberation Sans" font-size="5.4" font-weight="normal" fill="#444" text-anchor="middle" textLength="5.4" lengthAdjust="spacingAndGlyphs">45</text>
<text x="611.24" y="250.6" font-family="Liberation Sans" font-size="5.4" font-weight="normal" fill="#444" text-anchor="middle" textLength="5.4" lengthAdjust="spacingAndGlyphs">50</text>
<text x="640.62" y="250.6" font-family="Liberation Sans" font-size="5.4" font-weight="normal" fill="#444" text-anchor="middle" textLength="5.4" lengthAdjust="spacingAndGlyphs">55</text>
<text x="670.0" y="250.6" font-family="Liberation Sans" font-size="5.4" font-weight="normal" fill="#444" text-anchor="middle" textLength="5.4" lengthAdjust="spacingAndGlyphs">60</text>
<text x="645.3" y="35.3" font-family="Liberation Sans" font-size="6.2" font-weight="bold" fill="#222" text-anchor="middle">a</text>
<text x="647.6" y="123.7" font-family="Liberation Sans" font-size="6.6" font-weight="normal" fill="#2a2a2a" text-anchor="middle">b</text>
<text x="649" y="197.7" font-family="Liberation Sans" font-size="6.4" font-weight="normal" fill="#2a2a2a" text-anchor="middle">c</text>
<text x="523" y="262.1" font-family="Liberation Serif" font-size="11.6" font-weight="normal" fill="#1a1a1a" text-anchor="middle" textLength="65" lengthAdjust="spacingAndGlyphs">2theta degree</text>
<text transform="translate(355.7,123.0) rotate(-90)" x="0" y="0" font-family="Liberation Serif" font-size="9.4" fill="#222" text-anchor="middle" textLength="62.5" lengthAdjust="spacingAndGlyphs">Intensity (a.u.)</text>
</svg>
</body></html>
